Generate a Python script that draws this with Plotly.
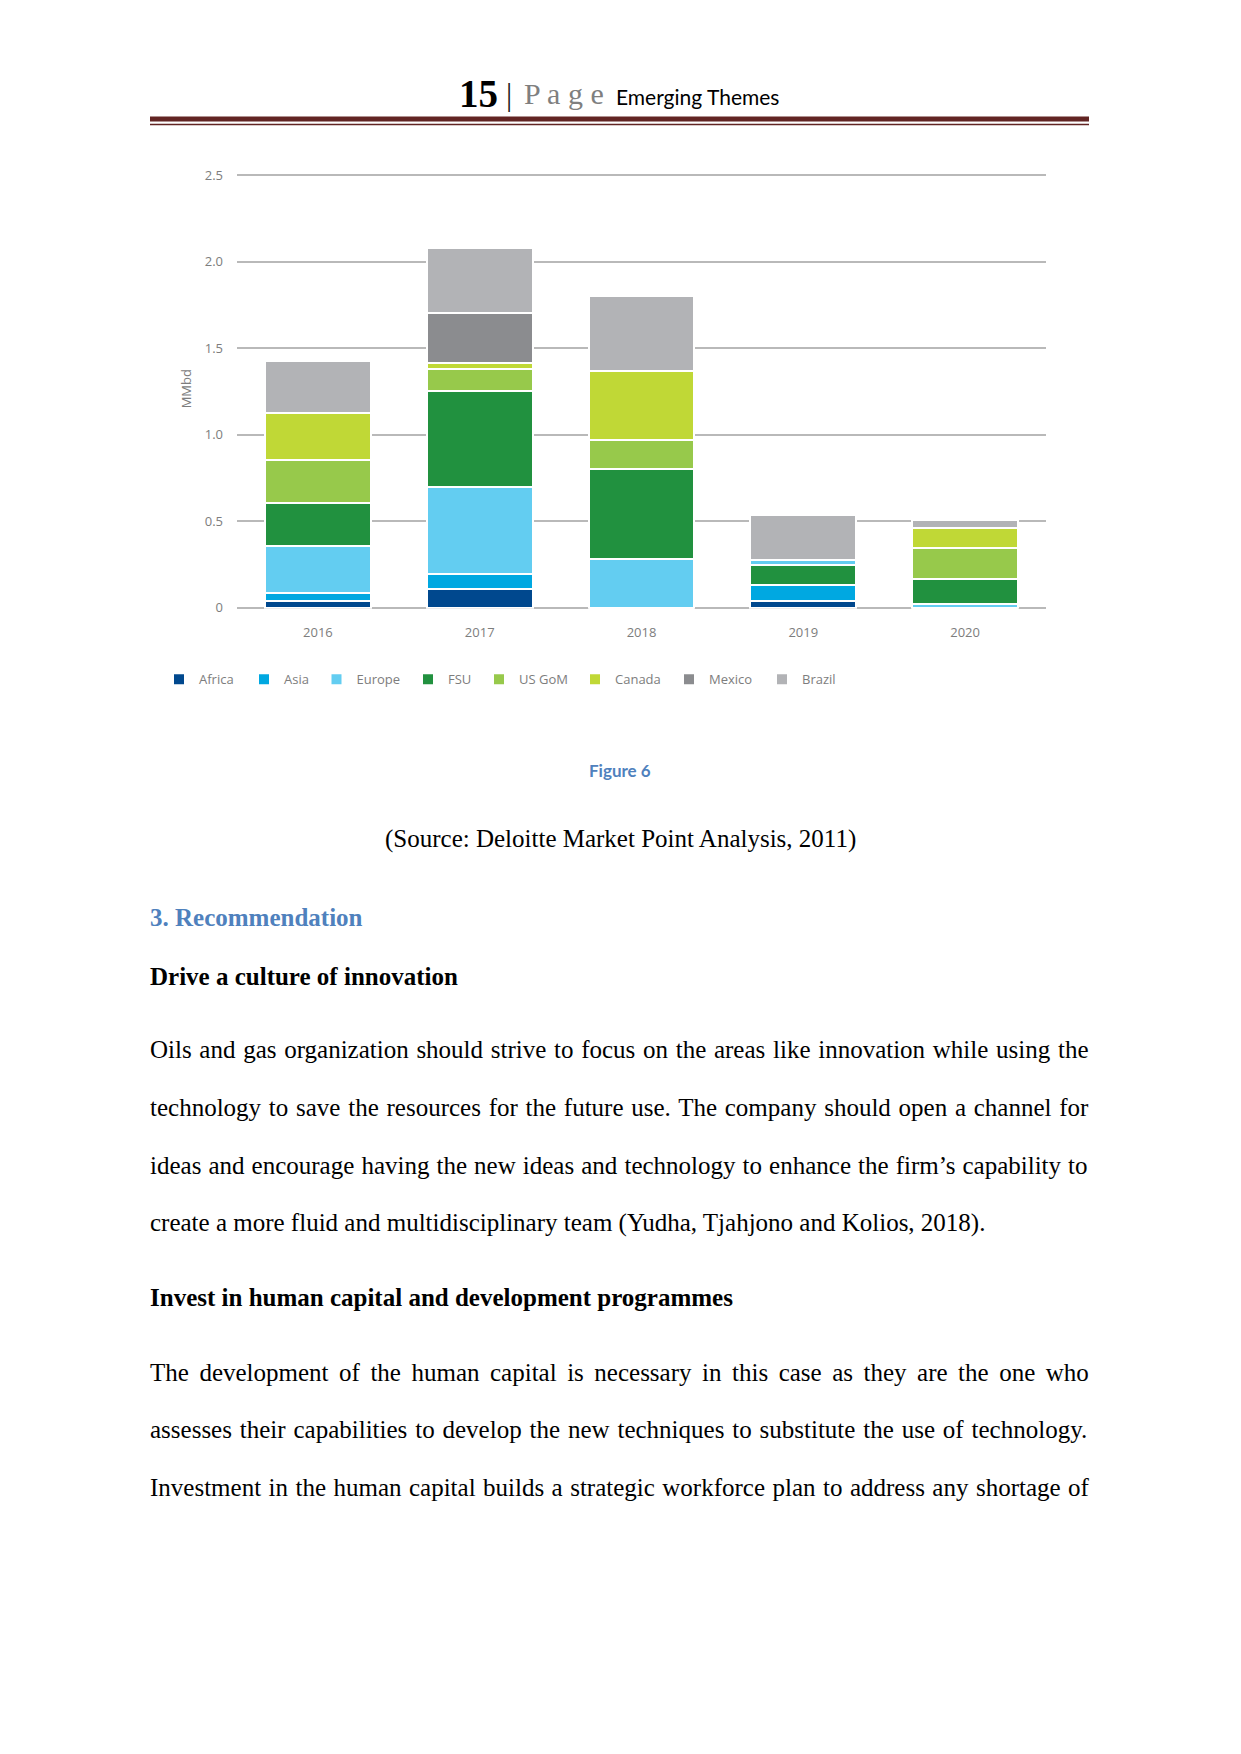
import plotly.graph_objects as go

W, H = 1241, 1754

# ---------------- data ----------------
years = ["2016", "2017", "2018", "2019", "2020"]
africa = [0.040, 0.110, 0.0, 0.038, 0.0]
asia = [0.047, 0.082, 0.0, 0.092, 0.0]
europe = [0.269, 0.505, 0.283, 0.0, 0.023]
fsu = [0.250, 0.555, 0.519, 0.114, 0.140]
europe_upper = [0.0, 0.0, 0.0, 0.031, 0.0]
us_gom = [0.250, 0.130, 0.169, 0.0, 0.181]
canada = [0.269, 0.034, 0.398, 0.0, 0.115]
mexico = [0.0, 0.284, 0.0, 0.0, 0.0]
brazil = [0.300, 0.379, 0.431, 0.259, 0.049]

y_tickvals = [0, 0.5, 1.0, 1.5, 2.0, 2.5]
y_ticktext = ["0", "0.5", "1.0", "1.5", "2.0", "2.5"]

header_num = "15"
header_page = "P a g e"
header_title = "Emerging Themes"
fig_caption = "Figure 6"
source_text = "(Source: Deloitte Market Point Analysis, 2011)"
heading_main = "3. Recommendation"
sub1 = "Drive a culture of innovation"
para1 = [
    "Oils and gas organization should strive to focus on the areas like innovation while using the",
    "technology to save the resources for the future use. The company should open a channel for",
    "ideas and encourage having the new ideas and technology to enhance the firm\u2019s capability to",
    "create a more fluid and multidisciplinary team (Yudha, Tjahjono and Kolios, 2018).",
]
sub2 = "Invest in human capital and development programmes"
para2 = [
    "The development of the human capital is necessary in this case as they are the one who",
    "assesses their capabilities to develop the new techniques to substitute the use of technology.",
    "Investment in the human capital builds a strategic workforce plan to address any shortage of",
]

# ---------------- helpers ----------------
# empirical vertical calibration of the rendered page
V_SCALE, V_OFF = 0.991, 8.6
ANN_PAD = 2.5   # inner padding plotly adds around annotation text

def yfix(y):
    return (y - V_OFF) / V_SCALE

def px(x):
    return x / W

def py(y):
    return 1 - yfix(y) / H

TIMES = {' ': 250, '(': 333, ')': 333, ',': 250, '.': 250, '-': 333, ':': 278, "'": 180, '\u2019': 333,
         'A': 722, 'B': 667, 'C': 667, 'D': 722, 'E': 611, 'F': 556, 'G': 722, 'H': 722, 'I': 333,
         'J': 389, 'K': 722, 'L': 611, 'M': 889, 'N': 722, 'O': 722, 'P': 556, 'Q': 722, 'R': 667,
         'S': 556, 'T': 611, 'U': 722, 'V': 722, 'W': 944, 'X': 722, 'Y': 722, 'Z': 611,
         'a': 444, 'b': 500, 'c': 444, 'd': 500, 'e': 444, 'f': 333, 'g': 500, 'h': 500, 'i': 278,
         'j': 278, 'k': 500, 'l': 278, 'm': 778, 'n': 500, 'o': 500, 'p': 500, 'q': 500, 'r': 333,
         's': 389, 't': 278, 'u': 500, 'v': 500, 'w': 722, 'x': 500, 'y': 500, 'z': 444}

def text_w(s, size):
    return sum(TIMES.get(c, 500) for c in s) * size / 1000.0

SERIF = "Liberation Serif"
BODY = 25
LEFT, RIGHT = 150, 1089

# chart geometry (page pixels)
Y0_PX, Y25_PX = 608.3, 175.7
UNIT = (Y0_PX - Y25_PX) / 2.5
Y_RANGE = [-0.006, 2.506]

# ---------------- figure ----------------
fig = go.Figure()
colors = {
    "Africa": "#00488e", "Asia": "#00a8e1", "Europe": "#63cdf1", "FSU": "#21913f",
    "US GoM": "#97c94b", "Canada": "#c0d836", "Mexico": "#8b8c8f", "Brazil": "#b2b3b6",
}
series = [("Africa", africa, True), ("Asia", asia, True), ("Europe", europe, True),
          ("FSU", fsu, True), ("Europe", europe_upper, False), ("US GoM", us_gom, True),
          ("Canada", canada, True), ("Mexico", mexico, True), ("Brazil", brazil, True)]
legend_names = ["Africa", "Asia", "Europe", "FSU", "US GoM", "Canada", "Mexico", "Brazil"]
legend_x = [177, 262, 334.5, 426, 497, 593, 687, 780]   # left edge of each legend swatch
legend_ids = {n: ("legend" if i == 0 else "legend%d" % (i + 1)) for i, n in enumerate(legend_names)}

for name, vals, show in series:
    fig.add_trace(go.Bar(
        x=years, y=vals, name=name, showlegend=show, legendgroup=name,
        legend=legend_ids[name],
        marker=dict(color=colors[name], line=dict(color="white", width=2)),
    ))

tick_font = dict(family="Open Sans", size=13, color="#7d7d7d")
fig.update_layout(
    width=W, height=H, margin=dict(l=0, r=0, t=0, b=0),
    paper_bgcolor="white", plot_bgcolor="white",
    barmode="stack", bargap=0.345,
    xaxis=dict(domain=[px(237), px(1046)], showgrid=False, zeroline=False, showline=False,
               ticks="", tickfont=tick_font, ticklabelstandoff=14),
    yaxis=dict(domain=[py(Y0_PX - Y_RANGE[0] * UNIT), py(Y0_PX - Y_RANGE[1] * UNIT)],
               range=Y_RANGE, tickvals=y_tickvals,
               ticktext=y_ticktext, showgrid=True, gridcolor="#b9b9b9", gridwidth=2,
               zeroline=False, showline=False, ticks="", tickfont=tick_font,
               ticklabelstandoff=13),
)
for n, lx in zip(legend_names, legend_x):
    fig.update_layout({legend_ids[n]: dict(
        orientation="h", x=px(lx - 18), y=py(680), xanchor="left", yanchor="middle",
        font=dict(family="Open Sans", size=13, color="#7d7d7d"),
        bgcolor="rgba(0,0,0,0)", borderwidth=0)})

# header rules
fig.add_shape(type="line", xref="paper", yref="paper", x0=px(LEFT), x1=px(RIGHT),
              y0=py(119.5), y1=py(119.5), line=dict(color="#622423", width=5))
fig.add_shape(type="line", xref="paper", yref="paper", x0=px(LEFT), x1=px(RIGHT),
              y0=py(125), y1=py(125), line=dict(color="#622423", width=1.5))

def ann(text, x, y, size, family=SERIF, color="black", xanchor="left"):
    if xanchor == "left":
        x = x - ANN_PAD
    fig.add_annotation(text=text, x=px(x), y=py(y), xref="paper", yref="paper",
                       xanchor=xanchor, yanchor="middle", showarrow=False,
                       font=dict(family=family, size=size, color=color))

# header
ann("<b>" + header_num + "</b>", 459, 94, 39)
ann("|", 509, 95, 31, color="#222222", xanchor="center")
ann(header_page, 524, 94, 30, color="#7f7f7f")
ann(header_title, 616, 97, 21, family="Lato")

# y axis title
fig.add_annotation(text="MMbd", x=px(186), y=py(389), xref="paper", yref="paper",
                   textangle=-90, showarrow=False, xanchor="center", yanchor="middle",
                   font=dict(family="Open Sans", size=13, color="#7d7d7d"))

# captions
ann("<b>" + fig_caption + "</b>", 620, 771, 17, family="Lato", color="#4f81bd", xanchor="center")
ann(source_text, 620, 840, BODY, xanchor="center")
ann("<b>" + heading_main + "</b>", LEFT, 918.6, BODY, color="#4f81bd")
ann("<b>" + sub1 + "</b>", LEFT, 977, BODY)
ann("<b>" + sub2 + "</b>", LEFT, 1298, BODY)

def para(lines, y0, step, justify_last):
    for i, line in enumerate(lines):
        justify = (i < len(lines) - 1) or justify_last
        txt = line
        if justify:
            gap = (RIGHT - LEFT) - text_w(line, BODY)
            n = line.count(" ")
            ws = max(gap / n, 0)
            txt = '<span style="word-spacing:%.2fpx">%s</span>' % (ws, line)
        ann(txt, LEFT, y0 + i * step, BODY)

para(para1, 1050.5, 57.8, False)
para(para2, 1372.8, 57.8, True)

fig.write_html("out.html")
